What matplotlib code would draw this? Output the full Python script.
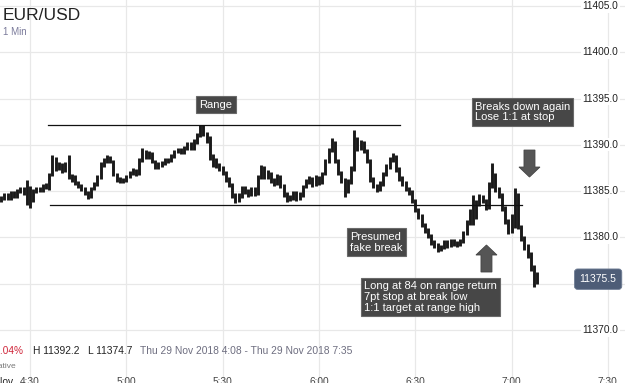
import matplotlib
matplotlib.use("Agg")
import matplotlib.pyplot as plt
from matplotlib.patches import Polygon
import numpy as np

plt.rcParams["font.family"] = ["Liberation Sans", "DejaVu Sans"]

# EUR/USD 1 min bars, minutes counted from 4:30
minutes = np.arange(-9, 159)
lows = [
    11383.8, 11384.1, 11384.0, 11384.0, 11384.3, 11384.3, 11384.8, 11384.6, 11383.5, 11383.2,
    11383.8, 11384.8, 11384.9, 11384.9, 11385.2, 11385.1, 11386.6, 11387.2, 11387.3, 11387.0,
    11387.1, 11386.3, 11386.0, 11385.7, 11385.3, 11385.0, 11384.6, 11384.2, 11384.3, 11385.1,
    11385.6, 11386.3, 11387.6, 11388.0, 11388.0, 11386.6, 11386.0, 11385.9, 11385.9, 11386.0,
    11386.4, 11386.8, 11386.6, 11386.7, 11388.2, 11388.5, 11388.5, 11388.0, 11387.4, 11387.4,
    11387.6, 11387.8, 11388.0, 11388.1, 11388.6, 11389.1, 11389.0, 11389.0, 11389.4, 11389.5,
    11389.5, 11390.1, 11390.8, 11391.0, 11390.2, 11388.4, 11387.6, 11387.5, 11387.2, 11386.7,
    11386.0, 11385.4, 11384.3, 11383.7, 11383.8, 11384.3, 11384.7, 11384.4, 11384.5, 11384.5,
    11384.6, 11386.3, 11386.3, 11386.3, 11385.9, 11385.6, 11385.7, 11385.3, 11384.4, 11383.8,
    11383.9, 11384.1, 11383.9, 11384.0, 11384.4, 11385.3, 11385.8, 11385.5, 11385.6, 11385.7,
    11385.8, 11386.7, 11388.0, 11389.2, 11388.0, 11386.7, 11385.9, 11384.4, 11384.8, 11385.8,
    11387.2, 11389.3, 11389.4, 11389.1, 11388.0, 11386.0, 11385.3, 11384.9, 11385.0, 11385.6,
    11386.6, 11387.4, 11388.1, 11387.1, 11386.1, 11385.6, 11385.0, 11384.6, 11383.7, 11382.7,
    11382.0, 11381.1, 11380.5, 11379.9, 11379.2, 11378.9, 11378.4, 11378.5, 11378.8, 11378.9,
    11379.0, 11379.1, 11379.0, 11379.1, 11379.4, 11380.3, 11381.4, 11381.3, 11382.0, 11383.4,
    11383.7, 11383.0, 11383.1, 11385.3, 11384.9, 11384.3, 11382.9, 11381.5, 11380.4, 11380.5,
    11381.0, 11380.9, 11379.6, 11378.6, 11377.8, 11376.4, 11374.7, 11375.0,
]
highs = [
    11384.5, 11384.8, 11384.8, 11385.0, 11385.0, 11385.2, 11385.4, 11385.4, 11386.2, 11385.6,
    11385.2, 11385.5, 11385.5, 11385.8, 11385.9, 11387.0, 11388.9, 11388.7, 11388.1, 11388.0,
    11388.1, 11388.9, 11386.9, 11386.8, 11386.1, 11385.8, 11385.4, 11385.0, 11385.5, 11386.0,
    11386.7, 11388.1, 11388.6, 11388.9, 11388.8, 11388.4, 11387.0, 11386.5, 11386.4, 11386.8,
    11387.2, 11387.5, 11387.4, 11388.6, 11389.7, 11389.4, 11389.3, 11389.2, 11388.4, 11388.1,
    11388.3, 11388.6, 11388.6, 11389.0, 11389.5, 11389.7, 11389.7, 11389.9, 11390.3, 11390.3,
    11390.6, 11391.3, 11392.2, 11392.1, 11391.4, 11391.0, 11389.0, 11388.6, 11388.0, 11387.7,
    11387.2, 11386.5, 11385.9, 11384.8, 11384.8, 11385.6, 11385.6, 11385.2, 11385.4, 11385.4,
    11386.7, 11387.8, 11387.7, 11387.3, 11387.1, 11386.4, 11386.9, 11386.8, 11385.8, 11384.9,
    11384.6, 11385.0, 11385.0, 11384.9, 11385.7, 11386.3, 11386.6, 11386.5, 11386.7, 11386.6,
    11387.1, 11388.5, 11389.7, 11390.7, 11390.4, 11388.5, 11387.2, 11386.4, 11386.3, 11387.7,
    11391.6, 11390.8, 11390.5, 11390.4, 11389.6, 11388.5, 11386.5, 11385.8, 11386.1, 11387.1,
    11387.9, 11388.7, 11389.1, 11388.9, 11387.6, 11386.6, 11386.1, 11385.5, 11385.1, 11384.2,
    11383.2, 11382.5, 11381.6, 11381.0, 11380.4, 11379.7, 11379.4, 11379.2, 11379.7, 11379.7,
    11379.8, 11379.8, 11379.6, 11379.8, 11380.7, 11381.9, 11383.1, 11384.6, 11384.0, 11384.7,
    11384.6, 11384.2, 11386.0, 11388.0, 11387.0, 11385.4, 11384.8, 11383.4, 11382.0, 11382.5,
    11385.3, 11384.8, 11381.4, 11380.2, 11379.3, 11378.4, 11377.0, 11376.3,
]

price_ticks = [11370, 11375, 11380, 11385, 11390, 11395, 11400, 11405]
time_ticks = [0, 30, 60, 90, 120, 150, 180]
time_labels = ["4:30", "5:00", "5:30", "6:00", "6:30", "7:00", "7:30"]

range_high = 11392.2
range_low = 11383.5
last_price = 11375.5

# pixel scale of the original: 3.21 px per minute, 9.26 px per point
PX_T = 3.21
PX_P = 9.26

fig = plt.figure(figsize=(6.25, 3.83), dpi=100)
ax = fig.add_axes([0, 0, 1, 1])
ax.set_xlim(-30 / PX_T, 595 / PX_T)
ax.set_ylim(11405 - 377 / PX_P, 11405 + 6 / PX_P)
ax.axis("off")

# grid
for p in price_ticks:
    ax.axhline(p, color="#e8e8e8", lw=0.9, zorder=0)
for t in time_ticks:
    ax.axvline(t, color="#e8e8e8", lw=0.9, zorder=0)

# bars
ax.vlines(minutes, lows, highs, color="#1a1a1a", lw=2.1, zorder=3)

# range lines
ax.plot([5.6, 115.3], [range_high, range_high], color="#111", lw=0.9, zorder=4)
ax.plot([6.2, 153.3], [range_low, range_low], color="#111", lw=0.9, zorder=4)

# price axis labels
ylab = ax.get_yaxis_transform()
for p in price_ticks:
    if p == 11375:
        continue
    ax.text(0.932, p, f"{p:.1f}", transform=ylab, fontsize=7.3, color="#222",
            ha="left", va="center",
            bbox=dict(boxstyle="square,pad=0.15", fc="white", ec="none"))

# current price box
ax.text(0.957, last_price, f"{last_price:.1f}", transform=ylab, fontsize=7.5,
        color="white", ha="center", va="center", zorder=6,
        bbox=dict(boxstyle="round,pad=0.5,rounding_size=0.3", fc="#4e5d77",
                  ec="#6f7d94", lw=0.6))

# time labels (cut off at the bottom, as in the original)
xlab = ax.get_xaxis_transform()
for t, lab in zip(time_ticks, time_labels):
    ax.text(t, 1 - 377 / 383, lab, transform=xlab, fontsize=7.3, color="#444",
            ha="center", va="top")
ax.text(13 / 625, 1 - 377 / 383, "29 Nov", transform=ax.transAxes, fontsize=7.3,
        color="#222", ha="right", va="top")

# title
ax.text(3 / 625, 1 - 15 / 383, "EUR/USD", transform=ax.transAxes, fontsize=12.5,
        color="#222", ha="left", va="center")
ax.text(3 / 625, 1 - 32 / 383, "1 Min", transform=ax.transAxes, fontsize=7,
        color="#7b7b9b", ha="left", va="center")

# footer
fy = 1 - 351 / 383
ax.text(24 / 625, fy, "-0.04%", transform=ax.transAxes, fontsize=7.2,
        color="#d0263a", ha="right", va="center")
ax.text(33 / 625, fy, "H 11392.2", transform=ax.transAxes, fontsize=7.4,
        color="#222", ha="left", va="center")
ax.text(88 / 625, fy, "L 11374.7", transform=ax.transAxes, fontsize=7.4,
        color="#222", ha="left", va="center")
ax.text(140 / 625, fy, "Thu 29 Nov 2018 4:08 - Thu 29 Nov 2018 7:35",
        transform=ax.transAxes, fontsize=7.4, color="#6e6e80", ha="left",
        va="center")
ax.text(16 / 625, 1 - 367 / 383, "Indicative", transform=ax.transAxes,
        fontsize=6, color="#777", ha="right", va="center")

# annotation boxes
box = dict(boxstyle="square,pad=0.3", fc="#474747", ec="#6a6a6a", lw=0.8)


def note(t, p, s, ha="left"):
    ax.text(t, p, s, fontsize=8, color="white", ha=ha, va="center",
            linespacing=1.1, bbox=box, zorder=6)


note(57.9, 11394.36, "Range", ha="center")
note(138.6, 11393.55, "Breaks down again\nLose 1:1 at stop")
note(99.7, 11379.5, "Presumed\nfake break")
note(104.0, 11373.57, "Long at 84 on range return\n7pt stop at break low\n1:1 target at range high")


def arrow(t, tip, up):
    # arrow built from pixel sizes of the original
    s = 1 if up else -1
    hw, sw, hl, ln = 10.5 / PX_T, 5.5 / PX_T, 10 / PX_P, 27 / PX_P
    pts = [
        (t, tip),
        (t + hw, tip - s * hl),
        (t + sw, tip - s * hl),
        (t + sw, tip - s * ln),
        (t - sw, tip - s * ln),
        (t - sw, tip - s * hl),
        (t - hw, tip - s * hl),
    ]
    ax.add_patch(Polygon(pts, closed=True, fc="#555555", ec="#444444",
                         lw=0.6, zorder=5))


arrow(155.6, 11386.53, up=False)
arrow(142.2, 11379.19, up=True)

fig.savefig("out.png", dpi=100)
